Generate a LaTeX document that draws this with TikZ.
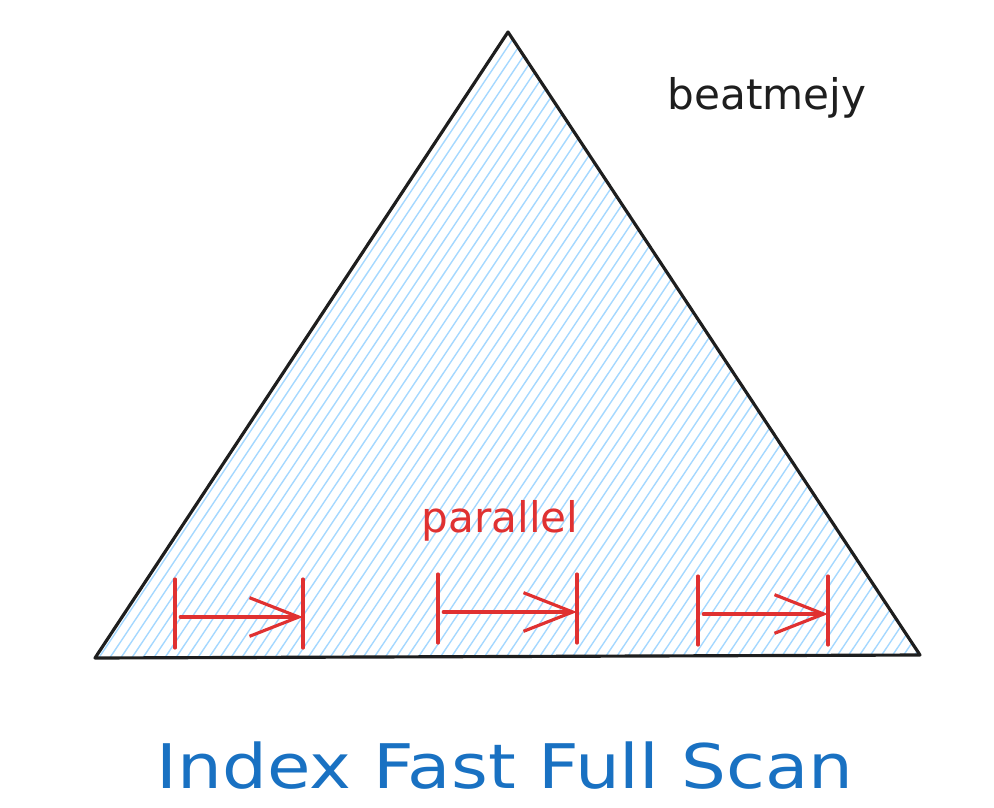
\documentclass[tikz,border=0pt]{standalone}
\usepackage{fontspec}
\setmainfont{DejaVu Sans}
\usetikzlibrary{arrows.meta}
\definecolor{inkblack}{HTML}{1E1E1E}
\definecolor{inkred}{HTML}{E03131}
\definecolor{inkblue}{HTML}{1971C2}
\definecolor{hatchblue}{HTML}{A5D8FF}

\tikzset{
  treeline/.style={draw=inkblack, line width=1.8pt, line join=round},
  hatchline/.style={draw=hatchblue, line width=0.8pt},
  scanbar/.style={draw=inkred, line width=1.8pt, line cap=round},
  scanarrow/.style={draw=inkred, line width=1.8pt, line cap=round,
    -{Straight Barb[length=28pt,width=22pt,line width=1.8pt]}},
}

\begin{document}
\begin{tikzpicture}[x=0.02cm,y=-0.02cm]
\useasboundingbox (0,0) rectangle (994,808);
% index tree
\coordinate (top) at (508,32);
\coordinate (right) at (920,655);
\coordinate (left) at (95,658);
\begin{scope}
  \clip (top) -- (right) -- (left) -- cycle;
  \foreach \x in {-400,-389,...,950}
    \draw[hatchline] (\x,680) -- (\x+455,0);
\end{scope}
\draw[treeline] (top) -- (right) -- (left) -- cycle;
% labels
\node[text=inkblack, font=\fontsize{24}{28}\selectfont] (author) at (767,98) {beatmejy};
\node[text=inkred, font=\fontsize{24}{28}\selectfont] (parallel) at (500,521) {parallel};
\node[text=inkblue, font=\fontsize{35}{40}\selectfont, xscale=1.15] (title) at (505,766) {Index Fast Full Scan};
% parallel scans
\foreach \a/\b/\y [count=\i] in {175/303/617, 438/577/612, 698/828/614}{
  \coordinate (s\i) at (\a,\y);
  \coordinate (e\i) at (\b,\y);
  \draw[scanbar] (\a,\y-38) -- (\a,\y+31);
  \draw[scanbar] (\b,\y-38) -- (\b,\y+31);
  \draw[scanarrow] ([xshift=3]s\i) -- (e\i);
}
\end{tikzpicture}
\end{document}
